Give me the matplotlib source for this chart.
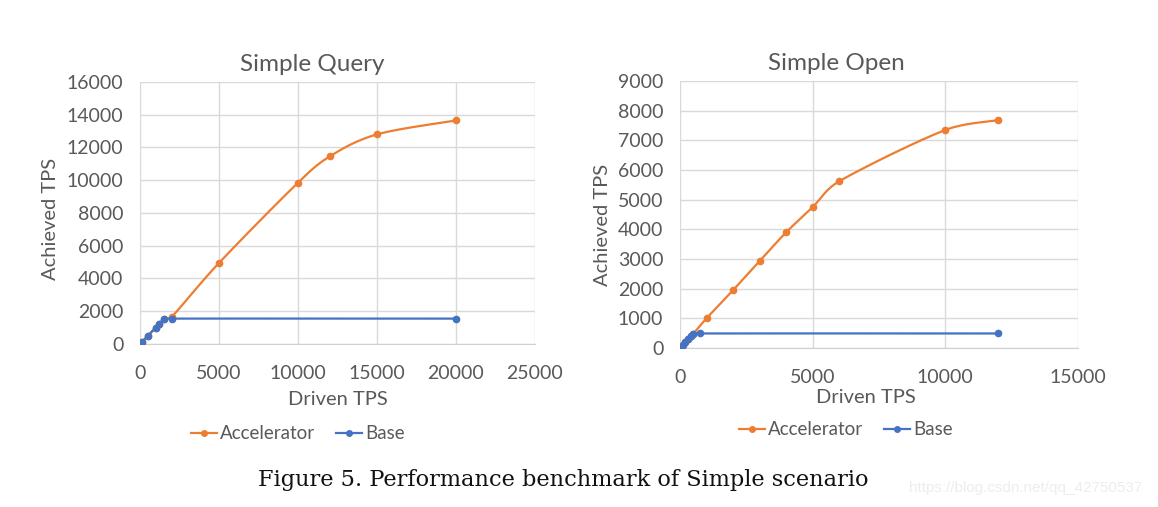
import numpy as np
import matplotlib
matplotlib.use('Agg')
import matplotlib.pyplot as plt

# Simple Query
sq_driven = [100, 500, 1000, 1200, 1500, 2000, 5000, 10000, 12000, 15000, 20000]
sq_accel = [100, 500, 1000, 1200, 1500, 1650, 4950, 9850, 11450, 12800, 13650]
sq_base_driven = [100, 500, 1000, 1200, 1500, 2000, 20000]
sq_base = [100, 500, 1000, 1200, 1500, 1550, 1550]

# Simple Open
so_driven = [0, 100, 200, 300, 400, 500, 1000, 2000, 3000, 4000, 5000, 6000, 10000, 12000]
so_accel = [0, 100, 200, 300, 400, 480, 1000, 1950, 2930, 3900, 4750, 5620, 7350, 7680]
so_base_driven = [0, 100, 200, 300, 400, 500, 750, 12000]
so_base = [0, 100, 200, 300, 400, 470, 490, 490]

ORANGE = '#ED7D31'
BLUE = '#4472C4'
TXT = '#595959'
FONT = 'Lato'


def smooth(x, y, xr, yr, n=30):
    # excel-like smoothed line, bezier handles clamped so short segments don't loop
    p = np.column_stack([np.asarray(x, float) / xr, np.asarray(y, float) / yr])
    out = [p[0]]
    for i in range(len(p) - 1):
        p0 = p[i - 1] if i > 0 else p[i]
        p1, p2 = p[i], p[i + 1]
        p3 = p[i + 2] if i + 2 < len(p) else p[i + 1]
        L = np.linalg.norm(p2 - p1)
        h1 = (p2 - p0) / 6
        h2 = (p3 - p1) / 6
        for h in (h1, h2):
            m = np.linalg.norm(h)
            if m > 0.4 * L:
                h *= 0.4 * L / m
        c1 = p1 + h1
        c2 = p2 - h2
        t = np.linspace(0, 1, n)[1:, None]
        seg = (1 - t) ** 3 * p1 + 3 * (1 - t) ** 2 * t * c1 + 3 * (1 - t) * t ** 2 * c2 + t ** 3 * p2
        out.extend(seg)
    out = np.array(out)
    return out[:, 0] * xr, out[:, 1] * yr


def draw(ax, title, xa, ya, xb, yb, xlim, xticks, ylim, yticks, pos):
    title_x, xlab_x, leg_x, leg_y, xlab_y, ylab_x, ylab_y = pos
    for xs, ys, c, lab in [(xa, ya, ORANGE, 'Accelerator'), (xb, yb, BLUE, 'Base')]:
        sx, sy = smooth(xs, ys, xlim[1], ylim[1])
        ax.plot(sx, sy, color=c, lw=1.6, zorder=3)
        ax.plot(xs, ys, 'o', color=c, ms=4.5, zorder=4)
        ax.plot([], [], '-o', color=c, lw=1.6, ms=4, label=lab)
    ax.set_xlim(*xlim)
    ax.set_ylim(*ylim)
    ax.set_xticks(xticks)
    ax.set_yticks(yticks)
    ax.grid(True, color='#D9D9D9', lw=1)
    ax.set_axisbelow(True)
    for s in ax.spines.values():
        s.set_visible(False)
    ax.spines['bottom'].set_visible(True)
    ax.spines['bottom'].set_color('#D0D0D0')
    ax.tick_params(length=0, labelsize=14, labelcolor=TXT)
    ax.tick_params(axis='y', pad=12)
    ax.tick_params(axis='x', pad=15)
    for lbl in ax.get_xticklabels() + ax.get_yticklabels():
        lbl.set_family(FONT)
    ax.set_title(title, fontsize=17.5, color=TXT, family=FONT, x=title_x, pad=8)
    ax.set_xlabel('Driven TPS', fontsize=14.5, color=TXT, family=FONT)
    ax.set_ylabel('Achieved TPS', fontsize=14.5, color=TXT, family=FONT)
    ax.xaxis.set_label_coords(xlab_x, xlab_y)
    ax.yaxis.set_label_coords(ylab_x, ylab_y)
    ax.legend(loc='center', bbox_to_anchor=(leg_x, leg_y), ncol=2, frameon=False,
              prop={'family': FONT, 'size': 13.5}, labelcolor=TXT, handlelength=1.4,
              handletextpad=0.15, columnspacing=1.1)


fig = plt.figure(figsize=(11.58, 5.07), dpi=100)
ax1 = fig.add_axes([0.1209, 0.3215, 0.3411, 0.5168])
ax2 = fig.add_axes([0.5872, 0.3136, 0.3437, 0.5266])

draw(ax1, 'Simple Query', sq_driven, sq_accel, sq_base_driven, sq_base,
     (0, 25000), range(0, 25001, 5000), (0, 16000), range(0, 16001, 2000),
     (0.435, 0.5, 0.40, -0.343, -0.18, -0.205, 0.477))
draw(ax2, 'Simple Open', so_driven, so_accel, so_base_driven, so_base,
     (0, 15000), range(0, 15001, 5000), (0, 9000), range(0, 9001, 1000),
     (0.394, 0.467, 0.417, -0.307, -0.154, -0.173, 0.46))

fig.text(0.486, 0.053, 'Figure 5. Performance benchmark of Simple scenario',
         ha='center', va='center', fontsize=16.2, family='DejaVu Serif', color='#111111')
fig.text(0.886, 0.037, 'https://blog.csdn.net/qq_42750537', ha='center', va='center',
         fontsize=11, color='#EDEDED', family='Liberation Sans')

fig.savefig('out.png', dpi=100)
